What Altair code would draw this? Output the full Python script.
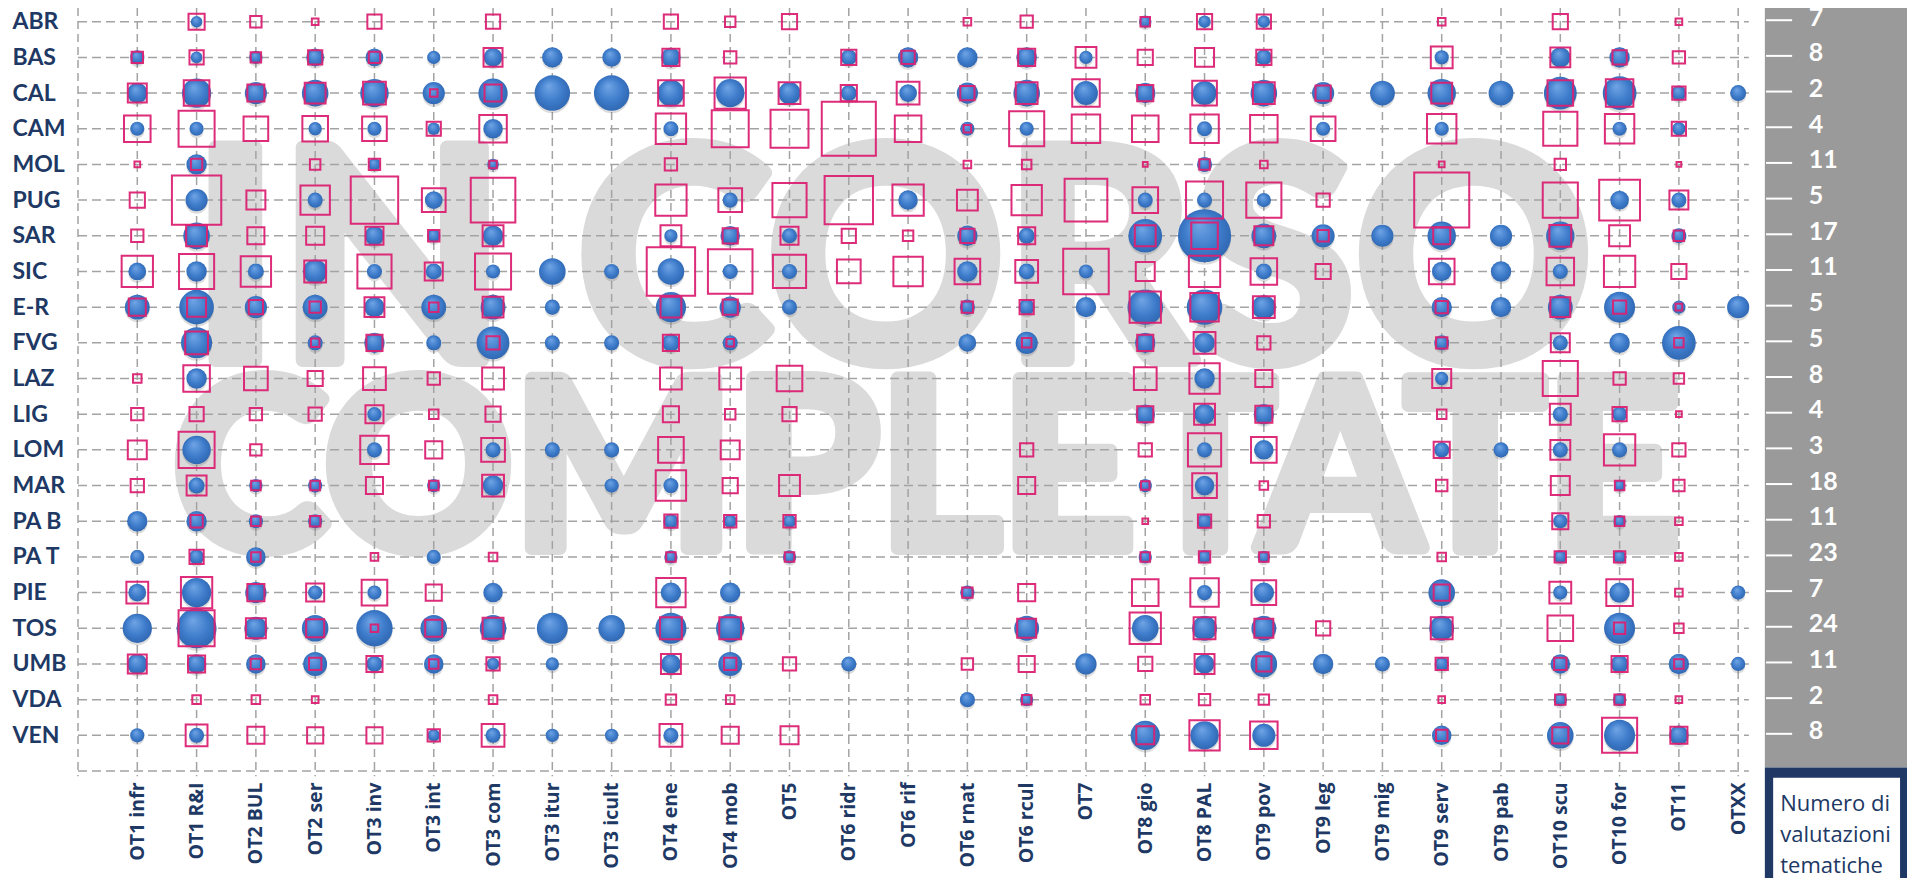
import altair as alt
import pandas as pd

COLUMNS = ["OT1 infr", "OT1 R&I", "OT2 BUL", "OT2 ser", "OT3 inv", "OT3 int", "OT3 com",
           "OT3 itur", "OT3 icult", "OT4 ene", "OT4 mob", "OT5", "OT6 ridr", "OT6 rif",
           "OT6 rnat", "OT6 rcul", "OT7", "OT8 gio", "OT8 PAL", "OT9 pov", "OT9 leg",
           "OT9 mig", "OT9 serv", "OT9 pab", "OT10 scu", "OT10 for", "OT11", "OTXX"]
REGIONS = ["ABR", "BAS", "CAL", "CAM", "MOL", "PUG", "SAR", "SIC", "E-R", "FVG", "LAZ",
           "LIG", "LOM", "MAR", "PA B", "PA T", "PIE", "TOS", "UMB", "VDA", "VEN"]
TOTALS = [7, 8, 2, 4, 11, 5, 17, 11, 5, 5, 8, 4, 3, 18, 11, 23, 7, 24, 11, 2, 8]

# bubble values (0 = no bubble), one list per region, 28 columns each
COMPLETATE = {
    "ABR": [0,13,0,0,0,0,0,0,0,0,0,0,0,0,0,0,0,14,14,14,0,0,0,0,0,0,0,0],
    "BAS": [16,13,15,20,20,15,21,23,21,22,0,0,18,23,23,23,15,0,0,18,0,0,16,0,23,23,0,0],
    "CAL": [23,33,25,30,32,25,33,40,40,30,32,25,18,20,24,30,27,23,27,30,25,28,32,28,37,38,17,18],
    "CAM": [16,16,0,15,16,14,22,0,0,17,0,0,0,0,16,16,0,0,17,0,16,0,16,0,0,16,15,0],
    "MOL": [0,23,0,0,14,0,13,0,0,0,0,0,0,0,0,0,0,0,17,0,0,0,0,0,0,0,0,0],
    "PUG": [0,25,0,17,0,20,0,0,0,0,17,0,0,22,0,0,0,17,17,16,0,0,0,0,0,21,17,0],
    "SAR": [0,30,0,0,22,15,23,0,0,15,22,17,0,0,23,18,0,38,60,28,26,25,32,25,32,0,17,0],
    "SIC": [20,23,18,27,17,18,16,30,17,30,17,17,0,0,23,18,16,0,0,18,0,0,22,23,17,0,0,0],
    "E-R": [28,39,25,28,23,28,28,17,0,34,24,17,0,0,17,18,23,40,40,27,0,0,23,23,28,35,15,25],
    "FVG": [0,35,0,17,23,17,37,17,17,20,17,0,0,0,20,25,0,23,23,0,0,0,17,0,17,23,38,0],
    "LAZ": [0,23,0,0,0,0,0,0,0,0,0,0,0,0,0,0,0,0,23,0,0,0,15,0,0,0,0,0],
    "LIG": [0,0,0,0,16,0,0,0,0,0,0,0,0,0,0,0,0,22,23,23,0,0,0,0,17,17,0,0],
    "LOM": [0,32,0,0,17,0,17,17,17,0,0,0,0,0,0,0,0,0,17,22,0,0,17,17,17,17,0,0],
    "MAR": [0,18,15,16,0,15,23,0,16,17,0,0,0,0,0,0,0,15,22,0,0,0,0,0,0,13,0,0],
    "PA B": [23,23,16,16,0,0,0,0,0,17,15,15,0,0,0,0,0,0,17,0,0,0,0,0,16,14,0,0],
    "PA T": [16,17,22,0,0,16,0,0,0,15,0,15,0,0,0,0,0,15,15,14,0,0,0,0,15,15,0,0],
    "PIE": [20,33,24,16,16,0,22,0,0,23,23,0,0,0,16,0,0,0,17,23,0,0,30,0,16,23,0,16],
    "TOS": [33,45,26,30,41,30,30,35,30,35,32,0,0,0,0,28,0,30,28,28,0,0,28,0,0,35,0,0],
    "UMB": [23,22,22,27,18,22,14,15,0,22,27,0,17,0,0,0,24,0,22,30,23,17,16,0,22,20,23,16],
    "VDA": [0,0,0,0,0,0,0,0,0,0,0,0,0,0,17,15,0,0,0,0,0,0,0,0,15,15,0,0],
    "VEN": [16,17,0,0,0,14,17,15,15,17,0,0,0,0,0,0,0,33,32,26,0,0,22,0,30,35,22,0],
}
IN_CORSO = {
    "ABR": [0,17,12,7,15,0,15,0,0,15,11,16,0,0,8,13,0,10,16,15,0,0,8,0,16,0,7,0],
    "BAS": [12,15,11,15,12,0,20,0,0,18,13,0,16,14,0,18,22,16,20,16,0,0,23,0,21,15,13,0],
    "CAL": [20,27,18,22,24,8,18,0,0,27,33,23,17,24,15,23,29,17,26,23,16,0,22,0,27,29,14,0],
    "CAM": [28,38,26,27,26,15,29,0,0,32,39,40,57,28,8,37,30,28,30,29,26,0,31,0,36,31,15,0],
    "MOL": [6,12,0,11,12,0,8,0,0,13,0,0,0,0,8,10,0,5,11,8,0,0,6,0,12,0,5,0],
    "PUG": [16,52,20,31,50,25,47,0,0,33,25,36,51,33,22,32,45,27,39,37,14,0,58,0,37,43,20,0],
    "SAR": [13,22,18,19,19,12,22,0,0,22,16,19,15,11,15,18,0,22,28,20,12,0,18,0,23,22,11,0],
    "SIC": [33,37,32,23,36,19,38,0,0,51,47,35,25,31,27,24,48,20,33,28,16,0,27,0,29,33,16,0],
    "E-R": [18,20,15,12,21,10,22,0,0,22,16,0,0,0,12,15,0,33,30,23,0,0,13,0,21,14,7,0],
    "FVG": [0,24,0,9,17,0,14,0,0,17,8,0,0,0,0,10,0,17,23,14,0,0,12,0,20,0,10,0],
    "LAZ": [9,28,25,16,24,13,23,0,0,23,23,27,0,0,0,0,0,24,32,18,0,0,20,0,37,13,11,0],
    "LIG": [13,15,13,14,19,10,16,0,0,17,11,15,0,0,0,0,0,17,22,18,0,0,10,0,22,15,6,0],
    "LOM": [20,38,12,0,30,18,25,0,0,27,20,0,0,0,0,14,0,14,35,27,0,0,17,0,21,33,14,0],
    "MAR": [14,21,10,10,18,10,23,0,0,32,16,22,0,0,0,18,0,9,26,9,0,0,12,0,20,10,12,0],
    "PA B": [0,13,10,11,0,0,0,0,0,14,13,13,0,0,0,0,0,6,14,13,0,0,0,0,17,10,8,0],
    "PA T": [0,15,10,0,8,0,9,0,0,10,0,10,0,0,0,0,0,10,12,10,0,0,9,0,12,12,8,0],
    "PIE": [23,33,18,19,27,17,0,0,0,31,0,0,0,0,11,18,0,28,30,26,0,0,17,0,23,28,8,0],
    "TOS": [0,38,21,19,8,18,22,0,0,23,23,0,0,0,0,20,0,33,23,20,15,0,23,0,27,12,10,0],
    "UMB": [20,18,11,13,17,10,14,0,0,21,13,14,0,0,12,17,0,15,21,16,0,0,13,0,13,17,10,0],
    "VDA": [0,9,9,7,0,0,9,0,0,11,9,0,0,0,0,10,0,10,12,11,0,0,7,0,11,11,7,0],
    "VEN": [0,23,18,17,17,13,24,0,0,24,18,19,0,0,0,0,0,19,32,29,0,0,12,0,17,37,18,0],
}
WATERMARK = ["IN CORSO", "COMPLETATE"]
BOX_TEXT = "Numero di\nvalutazioni\ntematiche"

NAVY = "#203864"
PINK = "#DC2173"
GRID = "#A3A3A3"
WM = "#DADADA"


def long_table(series):
    rows = []
    for ri, reg in enumerate(REGIONS):
        for ci, v in enumerate(series[reg]):
            if v > 0:
                rows.append({"region": reg, "ri": ri, "col": COLUMNS[ci], "ci": ci + 1, "value": v})
    return pd.DataFrame(rows)


done = long_table(COMPLETATE)
prog = long_table(IN_CORSO)
regions_df = pd.DataFrame({"region": REGIONS, "ri": list(range(len(REGIONS))), "tot": TOTALS})
vgrid = pd.DataFrame({"v": list(range(0, len(COLUMNS) + 1))})
hgrid = pd.DataFrame({"h": list(range(0, len(REGIONS) + 1))})
one = pd.DataFrame({"k": [0]})

XS = alt.Scale(domain=[0, 28.25], nice=False, zero=False)
YS = alt.Scale(domain=[-0.384, 21], reverse=True, nice=False, zero=False)

col_expr = "[" + ",".join("'" + c + "'" for c in COLUMNS) + "][datum.value-1]"
reg_expr = "[" + ",".join("'" + r + "'" for r in REGIONS) + "][datum.value]"

XA = alt.Axis(values=list(range(1, len(COLUMNS) + 1)), labelExpr=col_expr, title=None,
              grid=False, ticks=False, domain=False, labelAngle=-90, labelAlign="right",
              labelBaseline="middle", labelPadding=11, labelFont="Open Sans",
              labelFontSize=19.5, labelFontWeight="bold", labelColor=NAVY,
              labelOverlap=False, labelFlush=False)
YA = alt.Axis(values=list(range(len(REGIONS))), labelExpr=reg_expr, title=None,
              grid=False, ticks=False, domain=False, labelAlign="left",
              labelBaseline="middle", labelPadding=66, labelFont="Lato",
              labelFontSize=23, labelFontWeight="bold", labelColor=NAVY,
              labelOverlap=False, labelFlush=False)


def xd(v):
    return alt.XDatum(v, scale=XS, axis=XA)


def yd(v):
    return alt.YDatum(v, scale=YS, axis=YA)


def xf(f):
    return alt.X(f, scale=XS, axis=XA)


def yf(f):
    return alt.Y(f, scale=YS, axis=YA)


CSIZE = alt.Scale(type="pow", exponent=2, domain=[0, 60], range=[0, 2827])
SSIZE = alt.Scale(type="pow", exponent=2, domain=[0, 60], range=[0, 3240])

wm1 = alt.Chart(one).mark_text(text=WATERMARK[0], font="Lato", fontWeight="bold", fontSize=294,
                               color=WM, stroke=WM, strokeWidth=14, strokeJoin="round",
                               align="left", baseline="alphabetic").encode(
    x=xd(1.92), y=yd(9.48))
wm2 = alt.Chart(one).mark_text(text=WATERMARK[1], font="Lato", fontWeight="bold", fontSize=234,
                               color=WM, stroke=WM, strokeWidth=14, strokeJoin="round",
                               align="left", baseline="alphabetic").encode(
    x=xd(1.60), y=yd(14.75))

vlines = alt.Chart(vgrid).mark_rule(color=GRID, strokeWidth=1.5, strokeDash=[8, 5]).encode(
    x=xf("v:Q"), y=yd(-0.384), y2=alt.Y2Datum(21.15))
hlines = alt.Chart(hgrid).mark_rule(color=GRID, strokeWidth=1.5, strokeDash=[9, 5]).encode(
    y=yf("h:Q"), x=xd(0), x2=alt.X2Datum(28.18))

grad = alt.Gradient(gradient="radial",
                    stops=[alt.GradientStop(color="#6EA3E4", offset=0),
                           alt.GradientStop(color="#3D7BCA", offset=0.55),
                           alt.GradientStop(color="#2C61AA", offset=1)],
                    x1=0.4, y1=0.3, r1=0.02, x2=0.5, y2=0.5, r2=0.6)

shadow = alt.Chart(done).mark_circle(color="#404040", opacity=0.18, yOffset=2.5).encode(
    x=xf("ci:Q"), y=yf("ri:Q"),
    size=alt.Size("value:Q", scale=CSIZE, legend=None),
)
circles = alt.Chart(done).mark_circle(color=grad, opacity=1).encode(
    x=xf("ci:Q"), y=yf("ri:Q"),
    size=alt.Size("value:Q", scale=CSIZE, legend=None),
)
squares = alt.Chart(prog).mark_square(filled=False, color=PINK, strokeWidth=2, opacity=0.95).encode(
    x=xf("ci:Q"), y=yf("ri:Q"),
    size=alt.Size("value:Q", scale=SSIZE, legend=None),
)

panel = alt.Chart(one).mark_rect(color="#9A9A9A").encode(
    x=xd(28.45), x2=alt.X2Datum(31), y=yd(-1), y2=alt.Y2Datum(20.9))
ticks = alt.Chart(regions_df).mark_rule(color="white", strokeWidth=2, yOffset=-1.5).encode(
    y=yf("ri:Q"), x=xd(28.47), x2=alt.X2Datum(28.91))
totals = alt.Chart(regions_df).mark_text(color="white", font="Lato", fontWeight="bold", fontSize=25,
                                         align="left", baseline="alphabetic", dy=4).encode(
    y=yf("ri:Q"), x=xd(29.19), text="tot:Q")
box_outer = alt.Chart(one).mark_rect(color=NAVY).encode(
    x=xd(28.45), x2=alt.X2Datum(31), y=yd(20.9), y2=alt.Y2Datum(24))
box_inner = alt.Chart(one).mark_rect(color="white").encode(
    x=xd(28.59), x2=alt.X2Datum(30.73), y=yd(21.19), y2=alt.Y2Datum(24))
box_text = alt.Chart(one).mark_text(text=BOX_TEXT, lineBreak="\n", lineHeight=31, font="Open Sans",
                                    fontSize=22, color=NAVY, align="left", baseline="alphabetic").encode(
    x=xd(28.71), y=yd(22.12))

chart = alt.layer(
    wm1, wm2, vlines, hlines, shadow, circles, squares, panel, ticks, totals,
    box_outer, box_inner, box_text
).resolve_scale(size="independent").properties(
    width=1675, height=763,
    padding={"left": 70, "top": 0, "right": 154, "bottom": 110},
    autosize=alt.AutoSizeParams(type="none"),
    background="white",
).configure_view(stroke=None)

chart.save("out.html", embed_options={"renderer": "svg", "actions": False})
